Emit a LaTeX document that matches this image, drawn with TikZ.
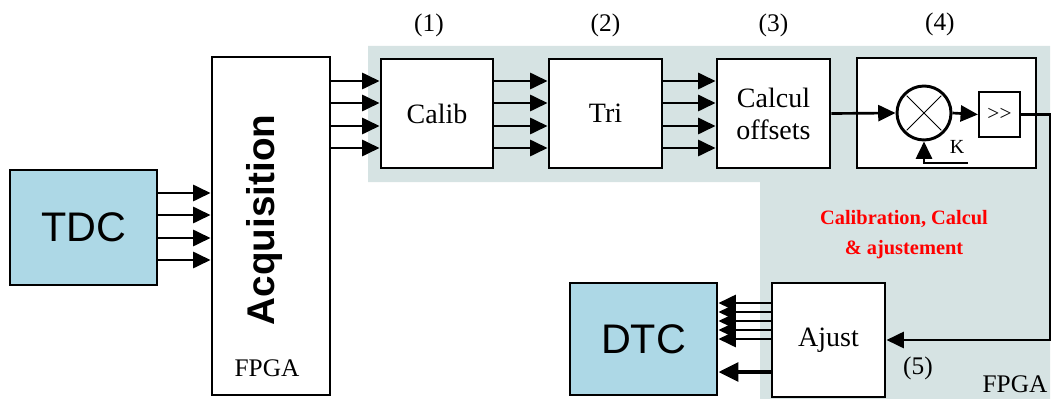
\documentclass[tikz,border=0pt]{standalone}
\usepackage{fontspec}
\setmainfont{Liberation Serif}
\setsansfont{Liberation Sans}
\usetikzlibrary{arrows.meta,positioning,calc}
\definecolor{fpgagray}{RGB}{214,227,227}
\definecolor{chipblue}{RGB}{173,216,230}
\definecolor{titlered}{RGB}{255,0,0}
\newcommand{\pxu}{0.75pt}
\tikzset{
    blk/.style={
        draw,
        line width=2.2pt,
        fill=white,
        inner sep=0pt,
        align=center,
        font={\fontsize{21}{24}\selectfont}
    },
    chip/.style={
        blk,
        fill=chipblue,
        font={\sffamily\fontsize{31}{34}\selectfont}
    },
    bus/.style={-{Triangle[length=13pt,width=12pt]}, line width=2pt},
    wide/.style={-{Triangle[length=15pt,width=14pt]}, line width=3pt},
    lbl/.style={font={\fontsize{19}{22}\selectfont}},
}

\begin{document}
\begin{tikzpicture}[x=\pxu, y=-\pxu]
\useasboundingbox (0,0) rectangle (1052,399);

% FPGA area
\fill[fpgagray] (368,46) -- (1050,46) -- (1050,399) -- (760,399)
    -- (760,182) -- (368,182) -- cycle;

% blocks
\node[chip, minimum width=147*\pxu, minimum height=115*\pxu] (tdc) at (83.5,227.5) {TDC};
\node[blk, minimum width=118*\pxu, minimum height=338*\pxu] (acq) at (271,226) {};
\node[rotate=90, font={\sffamily\bfseries\fontsize{29}{32}\selectfont}] (acqtxt) at (264,220) {Acquisition};
\node[lbl] (fpgal) at (267,368) {FPGA};
\node[blk, minimum width=112*\pxu, minimum height=109*\pxu] (calib) at (437,113.5) {Calib};
\node[blk, minimum width=113*\pxu, minimum height=109*\pxu] (tri) at (605.5,113.5) {Tri};
\node[blk, minimum width=113*\pxu, minimum height=109*\pxu] (calc) at (773.5,113.5) {Calcul\\offsets};
\node[blk, minimum width=179*\pxu, minimum height=110*\pxu] (mulbox) at (946.5,113) {};
\node[circle, draw, line width=2.2pt, fill=white, minimum size=54*\pxu, inner sep=0pt] (mul) at (924,113) {};
\draw[line width=0.6pt, shorten <=3pt, shorten >=3pt] (mul.45) -- (mul.225);
\draw[line width=0.6pt, shorten <=3pt, shorten >=3pt] (mul.135) -- (mul.315);
\node[draw, line width=1.6pt, fill=white, minimum width=41*\pxu, minimum height=45*\pxu,
    inner sep=0pt, font={\fontsize{16}{18}\selectfont}] (shift) at (999.5,114.5) {{>}{>}};
\node[chip, minimum width=147*\pxu, minimum height=112*\pxu] (dtc) at (643.5,339) {DTC};
\node[blk, minimum width=113*\pxu, minimum height=114*\pxu] (ajust) at (828.5,340) {Ajust};

% labels
\node[lbl, above=12pt of calib.north, xshift=-6pt] (n1) {(1)};
\node[lbl, above=12pt of tri.north] (n2) {(2)};
\node[lbl, above=12pt of calc.north] (n3) {(3)};
\node[lbl, above=12pt of mulbox.north, xshift=-5pt] (n4) {(4)};
\node[lbl] (n5) at (918,368) {(5)};
\node[lbl] (fpgar) at (1015,384) {FPGA};
\node[font={\fontsize{15}{17}\selectfont}] (klbl) at (957,147) {K};
\node[align=center, text=titlered, font={\bfseries\fontsize{15.3}{22.5}\selectfont}] (title) at (904,235)
    {Calibration, Calcul\\\& ajustement};

% buses
\foreach \y in {193,215,238,260}
    \draw[bus] (tdc.east |- 0,\y) -- (acq.west |- 0,\y);
\foreach \y in {81,103,126,148} {
    \draw[bus] (acq.east |- 0,\y) -- (calib.west |- 0,\y);
    \draw[bus] (calib.east |- 0,\y) -- (tri.west |- 0,\y);
    \draw[bus] (tri.east |- 0,\y) -- (calc.west |- 0,\y);
}
\foreach \y in {303,312,321,330,339}
    \draw[bus] (ajust.west |- 0,\y) -- (dtc.east |- 0,\y);
\draw[wide] (ajust.west |- 0,372) -- (dtc.east |- 0,372);

% processing chain
\draw[bus] (calc.east) -- (mul.west);
\draw[bus] (mul.east) -- (shift.west);
\coordinate (kin) at (968,163);
\draw[bus] (kin) -- (kin -| mul.south) -- (mul.south);
\coordinate (edge) at (1050,114.5);
\draw[bus] (shift.east) -- (edge) |- (ajust.east);
\end{tikzpicture}
\end{document}
